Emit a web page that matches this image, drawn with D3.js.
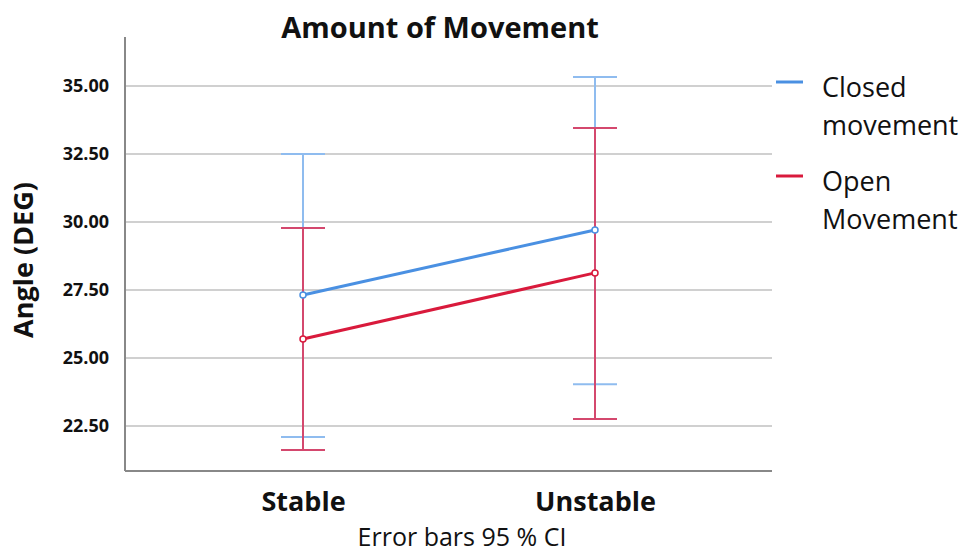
<!DOCTYPE html>
<html><head><meta charset="utf-8">
<script src="https://cdn.jsdelivr.net/npm/d3@7"></script>
<style>body{margin:0;background:#fff}svg{display:block}text{font-family:"Open Sans",sans-serif}</style>
</head><body><svg id="c" width="966" height="554"></svg>
<script>
const categories = ["Stable", "Unstable"];
const seriesNames = ["Closed movement", "Open Movement"];
const closedMean = [27.32, 29.71];
const closedLow = [22.10, 24.04];
const closedHigh = [32.50, 35.33];
const openMean = [25.70, 28.13];
const openLow = [21.62, 22.76];
const openHigh = [29.78, 33.46];
const yTicks = [22.5, 25, 27.5, 30, 32.5, 35];

const svg = d3.select("#c");
const L = 125, R = 772, T = 37, B = 471;
const y = d3.scaleLinear().domain([20.85, 36.8]).range([B, T]);
const x = d3.scalePoint().domain(categories).range([303, 595]);

// gridlines
svg.append("g").selectAll("line").data(yTicks).join("line")
  .attr("x1", L).attr("x2", R).attr("y1", d => y(d)).attr("y2", d => y(d))
  .attr("stroke", "#d0d0d0").attr("stroke-width", 2);

// axes
const yAxis = d3.axisLeft(y).tickValues(yTicks).tickSize(0).tickPadding(16).tickFormat(d3.format(".2f"));
const gy = svg.append("g").attr("transform", `translate(${L},0)`).call(yAxis);
gy.select(".domain").remove();
gy.selectAll("text").attr("font-size", 18).attr("font-weight", "bold").attr("fill", "#111");
svg.append("line").attr("x1", L).attr("x2", L).attr("y1", T).attr("y2", B).attr("stroke", "#888").attr("stroke-width", 2);
svg.append("line").attr("x1", L).attr("x2", R).attr("y1", B).attr("y2", B).attr("stroke", "#888").attr("stroke-width", 2);

const xAxis = d3.axisBottom(x).tickSize(0).tickPadding(0);
const gx = svg.append("g").attr("transform", `translate(0,${B})`).call(xAxis);
gx.select(".domain").remove();
gx.selectAll("text").attr("font-size", 27).attr("font-weight", "bold").attr("fill", "#111").attr("dy", 0).attr("y", 40);

const series = [
  {name: seriesNames[0], mean: closedMean, low: closedLow, high: closedHigh, line: "#4a90e2", bar: "#8fbcef"},
  {name: seriesNames[1], mean: openMean, low: openLow, high: openHigh, line: "#d91a3c", bar: "#d4486e"}
];

// error bars
series.forEach(s => {
  const g = svg.append("g");
  categories.forEach((c, i) => {
    const cx = x(c);
    g.append("line").attr("x1", cx).attr("x2", cx).attr("y1", y(s.low[i])).attr("y2", y(s.high[i])).attr("stroke", s.bar).attr("stroke-width", 2);
    [s.low[i], s.high[i]].forEach(v => g.append("line").attr("x1", cx - 22).attr("x2", cx + 22).attr("y1", y(v)).attr("y2", y(v)).attr("stroke", s.bar).attr("stroke-width", 2));
  });
});
// lines and markers
series.forEach(s => {
  const line = d3.line().x((d, i) => x(categories[i])).y(d => y(d));
  svg.append("path").attr("d", line(s.mean)).attr("fill", "none").attr("stroke", s.line).attr("stroke-width", 3);
  svg.append("g").selectAll("circle").data(s.mean).join("circle")
    .attr("cx", (d, i) => x(categories[i])).attr("cy", d => y(d)).attr("r", 3)
    .attr("fill", "#fff").attr("stroke", s.line).attr("stroke-width", 1.5);
});

// title
svg.append("text").attr("x", 440).attr("y", 38).attr("text-anchor", "middle").attr("font-size", 29).attr("font-weight", "bold").attr("fill", "#111").text("Amount of Movement");
// y title
svg.append("text").attr("transform", "translate(33,260) rotate(-90)").attr("text-anchor", "middle").attr("font-size", 27).attr("font-weight", "bold").attr("fill", "#111").text("Angle (DEG)");
// footnote
svg.append("text").attr("x", 462).attr("y", 546).attr("text-anchor", "middle").attr("font-size", 25).attr("fill", "#111").text("Error bars 95 % CI");

// legend
const leg = [
  {lines: ["Closed", "movement"], color: series[0].line, y: 82},
  {lines: ["Open", "Movement"], color: series[1].line, y: 176}
];
leg.forEach(l => {
  svg.append("line").attr("x1", 776).attr("x2", 803).attr("y1", l.y).attr("y2", l.y).attr("stroke", l.color).attr("stroke-width", 3);
  l.lines.forEach((t, j) => svg.append("text").attr("x", 822).attr("y", l.y + 15 + j * 38).attr("font-size", 27).attr("fill", "#111").text(t));
});
</script></body></html>
